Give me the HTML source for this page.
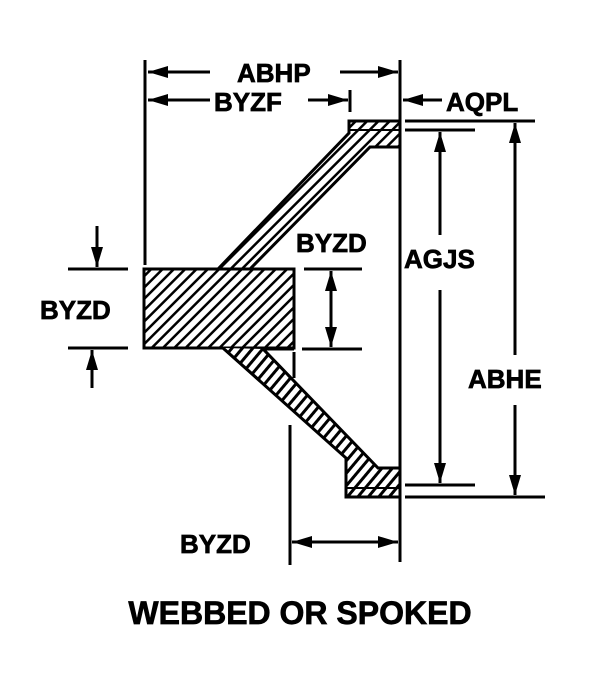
<!DOCTYPE html>
<html><head><style>body{margin:0;background:#fff}svg{display:block}text{font-family:"Liberation Sans",Arial,sans-serif;font-weight:bold;fill:#000;stroke:#000;stroke-width:0.7}</style></head>
<body>
<svg width="600" height="690" viewBox="0 0 600 690" xmlns="http://www.w3.org/2000/svg">
<defs>
<pattern id="h" width="8" height="8" patternUnits="userSpaceOnUse" patternTransform="rotate(45)">
<rect width="8" height="8" fill="#fff"/><rect x="0" y="0" width="2.5" height="8" fill="#000"/></pattern>
<pattern id="h2" width="8" height="8" patternUnits="userSpaceOnUse" patternTransform="rotate(40)">
<rect width="8" height="8" fill="#fff"/><rect x="0" y="0" width="3" height="8" fill="#000"/></pattern>
<marker id="a" markerWidth="20" markerHeight="12" refX="20" refY="6" orient="auto" markerUnits="userSpaceOnUse" viewBox="0 0 20 12">
<path d="M0,0 L20,6 L0,12 Z"/></marker>
</defs>
<g stroke="#000" stroke-width="3" fill="none" stroke-linejoin="miter">
<!-- upper web + rim -->
<polygon points="218,269 349,133 349,121 400,121 400,147 370,147 250,269" fill="url(#h)"/>
<line x1="349" y1="130" x2="400" y2="130" stroke-width="2"/>
<!-- lower web + rim -->
<polygon points="223,348 263,349 378,468 400,468 400,497 346,497 346,458" fill="url(#h2)"/>
<line x1="346" y1="488" x2="400" y2="488" stroke-width="2"/>
<!-- hub -->
<rect x="144" y="269" width="150" height="79" fill="url(#h)"/>
<line x1="263" y1="349" x2="294" y2="349" stroke="#fff" stroke-width="2"/>
<polygon points="223,348 263,349 290,377 240,364" fill="url(#h2)" stroke="none"/>
<line x1="223" y1="348" x2="260" y2="381"/>
<line x1="263" y1="349" x2="294" y2="349"/>
<line x1="263" y1="349" x2="290" y2="377"/>
<!-- vertical center line -->
<line x1="400" y1="60" x2="400" y2="562"/>
<line x1="145" y1="60" x2="145" y2="265"/>
<line x1="350" y1="90" x2="350" y2="112"/>
<!-- ABHP -->
<line x1="210" y1="72" x2="148" y2="72" marker-end="url(#a)"/>
<line x1="340" y1="72" x2="398" y2="72" marker-end="url(#a)"/>
<!-- BYZF -->
<line x1="210" y1="100" x2="148" y2="100" marker-end="url(#a)"/>
<line x1="308" y1="100" x2="348" y2="100" marker-end="url(#a)"/>
<!-- AQPL -->
<line x1="442" y1="100" x2="403" y2="100" marker-end="url(#a)"/>
<!-- extension lines right -->
<line x1="405" y1="121" x2="535" y2="121"/>
<line x1="405" y1="130" x2="475" y2="130"/>
<line x1="405" y1="485" x2="475" y2="485"/>
<line x1="405" y1="497" x2="545" y2="497"/>
<!-- AGJS -->
<line x1="440" y1="235" x2="440" y2="132" marker-end="url(#a)"/>
<line x1="440" y1="290" x2="440" y2="483" marker-end="url(#a)"/>
<!-- ABHE -->
<line x1="515" y1="355" x2="515" y2="123" marker-end="url(#a)"/>
<line x1="515" y1="405" x2="515" y2="495" marker-end="url(#a)"/>
<!-- left BYZD -->
<line x1="68" y1="269" x2="128" y2="269"/>
<line x1="68" y1="348" x2="128" y2="348"/>
<line x1="97" y1="226" x2="97" y2="267" marker-end="url(#a)"/>
<line x1="92" y1="388" x2="92" y2="350" marker-end="url(#a)"/>
<!-- middle BYZD -->
<line x1="304" y1="269" x2="362" y2="269"/>
<line x1="302" y1="349" x2="362" y2="349"/>
<line x1="331" y1="310" x2="331" y2="271" marker-end="url(#a)"/>
<line x1="331" y1="310" x2="331" y2="347" marker-end="url(#a)"/>
<line x1="294" y1="352" x2="294" y2="378"/>
<!-- bottom BYZD -->
<line x1="290" y1="425" x2="290" y2="565"/>
<line x1="345" y1="542" x2="292" y2="542" marker-end="url(#a)"/>
<line x1="345" y1="542" x2="398" y2="542" marker-end="url(#a)"/>
</g>
<g font-size="26">
<text x="237" y="82">ABHP</text>
<text x="214" y="111">BYZF</text>
<text x="446" y="111">AQPL</text>
<text x="296" y="252">BYZD</text>
<text x="404" y="268">AGJS</text>
<text x="40" y="319">BYZD</text>
<text x="468" y="388">ABHE</text>
<text x="180" y="553">BYZD</text>
</g>
<text x="300" y="624" font-size="32" text-anchor="middle">WEBBED OR SPOKED</text>
</svg>
</body></html>
